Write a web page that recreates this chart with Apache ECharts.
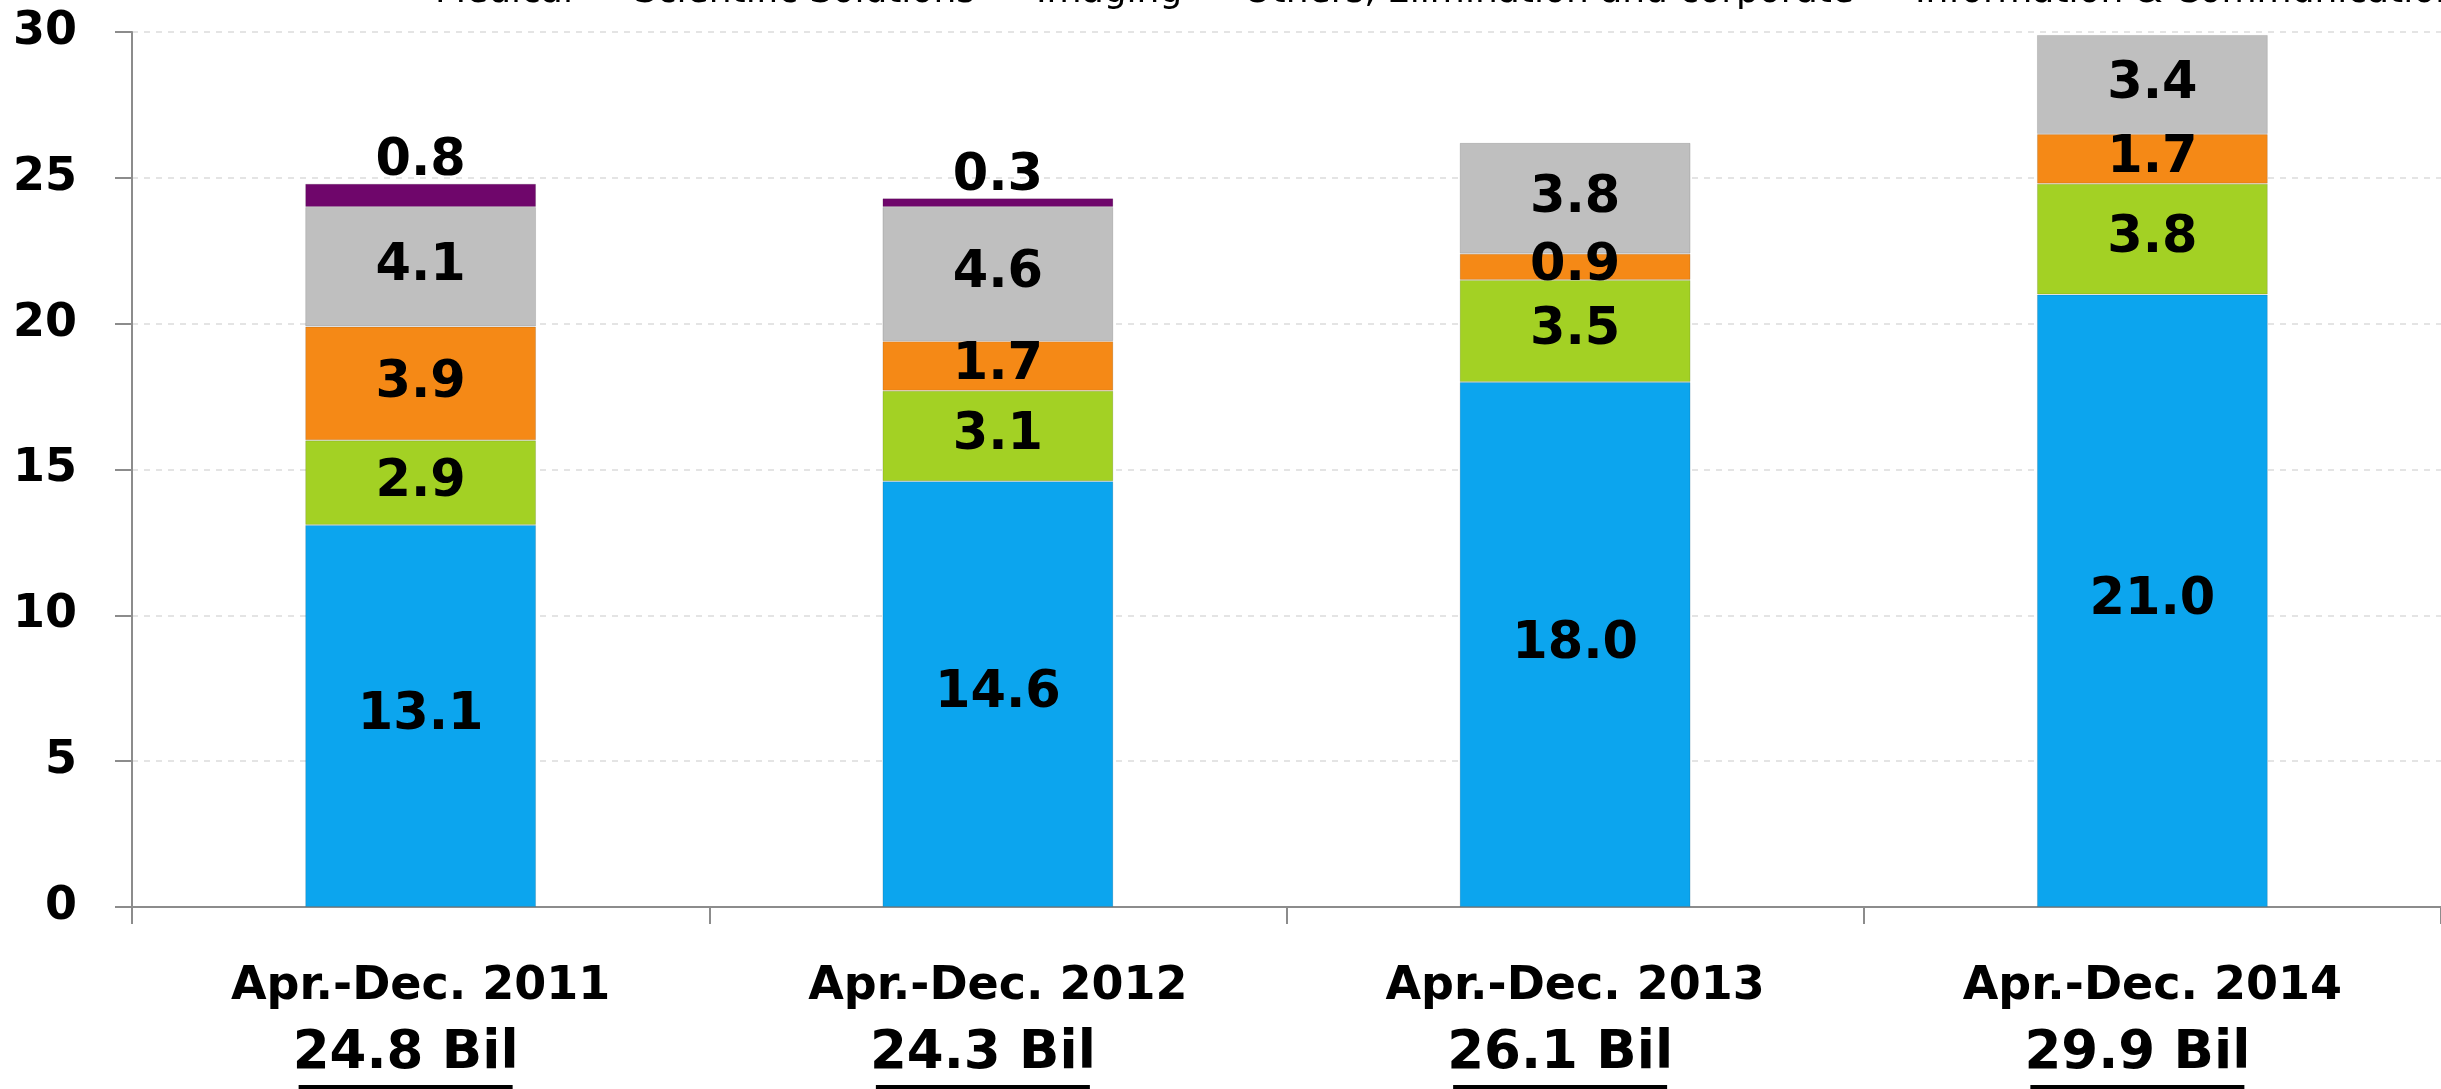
<!DOCTYPE html>
<html>
<head>
<meta charset="utf-8">
<script src="https://cdn.jsdelivr.net/npm/echarts@6/dist/echarts.min.js"></script>
<style>
  html, body { margin: 0; padding: 0; background: #fff; }
  #chart { width: 2441px; height: 1089px; }
</style>
</head>
<body>
<div id="chart"></div>
<script>
// data
const periods = ['Apr.-Dec. 2011', 'Apr.-Dec. 2012', 'Apr.-Dec. 2013', 'Apr.-Dec. 2014'];
const totals = ['24.8 Bil', '24.3 Bil', '26.1 Bil', '29.9 Bil'];
const seriesNames = ['Medical', 'Scientific Solutions', 'Imaging', 'Others, Elimination and corporate', 'Information & Communication'];
const medical = [13.1, 14.6, 18.0, 21.0];
const scientific = [2.9, 3.1, 3.5, 3.8];
const imaging = [3.9, 1.7, 0.9, 1.7];
const others = [4.1, 4.6, 3.8, 3.4];
const infoComm = [0.8, 0.3, null, null];
const yTicks = [0, 5, 10, 15, 20, 25, 30];

const colors = ['#0ca5ee', '#a3d124', '#f58916', '#bfbfbf', '#6f066b'];
const FONT = '"DejaVu Sans", Verdana, sans-serif';

const chart = echarts.init(document.getElementById('chart'));

const labelStyle = {
  show: true,
  position: 'inside',
  color: '#000',
  fontFamily: FONT,
  fontWeight: 'bold',
  fontSize: 51,
  formatter: p => p.value == null ? '' : p.value.toFixed(1)
};

function barSeries(name, data, i, labelPos) {
  return {
    name: name,
    type: 'bar',
    stack: 'total',
    data: data,
    barWidth: '40%',
    itemStyle: {
      color: colors[i],
      borderColor: 'rgba(0,0,0,0.12)',
      borderWidth: 1
    },
    label: Object.assign({}, labelStyle, labelPos ? { position: labelPos, distance: -4 } : {})
  };
}

const option = {
  animation: false,
  backgroundColor: '#fff',
  legend: {
    data: seriesNames,
    left: 404,
    top: -25,
    width: 5000,
    padding: 0,
    itemWidth: 25,
    itemHeight: 4,
    itemGap: 30,
    textStyle: { fontFamily: FONT, fontSize: 36, color: '#000' }
  },
  grid: {
    left: 132,
    right: 0,
    top: 32,
    bottom: 181,
    containLabel: false
  },
  xAxis: {
    type: 'category',
    data: periods,
    boundaryGap: true,
    axisLine: { lineStyle: { color: '#8c8c8c', width: 2 } },
    axisTick: { show: true, length: 17, lineStyle: { color: '#8c8c8c', width: 2 } },
    axisLabel: {
      margin: 44,
      interval: 0,
      formatter: (v, idx) => '{a|' + v + '}\n{b|' + totals[idx] + '}{sp| }\n{u| }{sp| }',
      rich: {
        a: { fontFamily: FONT, fontWeight: 'bold', fontSize: 46, color: '#000', lineHeight: 72 },
        b: { fontFamily: FONT, fontWeight: 'bold', fontSize: 53, color: '#000', lineHeight: 62 },
        u: { width: 214, height: 4, lineHeight: 4, fontSize: 1, backgroundColor: '#000' },
        sp: { width: 30, fontSize: 1 }
      }
    }
  },
  yAxis: {
    type: 'value',
    min: yTicks[0],
    max: yTicks[yTicks.length - 1],
    interval: 5,
    axisLine: { show: true, lineStyle: { color: '#8c8c8c', width: 2 } },
    axisTick: { show: true, length: 17, lineStyle: { color: '#8c8c8c', width: 2 } },
    axisLabel: {
      margin: 55,
      color: '#000',
      fontFamily: FONT,
      fontWeight: 'bold',
      fontSize: 46
    },
    splitLine: { show: true, lineStyle: { color: '#dcdcdc', type: [6, 6], width: 1.5 } }
  },
  series: [
    barSeries(seriesNames[0], medical, 0),
    barSeries(seriesNames[1], scientific, 1),
    barSeries(seriesNames[2], imaging, 2),
    barSeries(seriesNames[3], others, 3),
    barSeries(seriesNames[4], infoComm, 4, 'top')
  ]
};

chart.setOption(option);
</script>
</body>
</html>
